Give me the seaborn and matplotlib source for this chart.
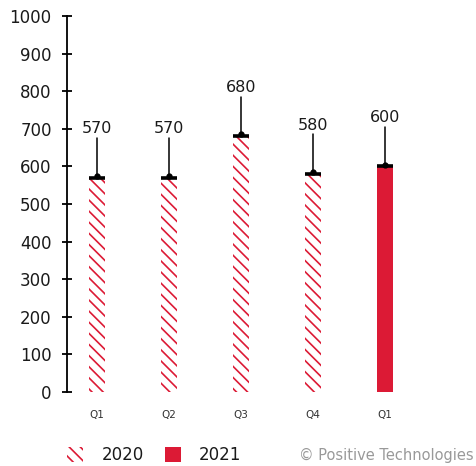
import matplotlib
matplotlib.use("Agg")
import matplotlib.pyplot as plt
import seaborn as sns
import pandas as pd
from matplotlib.patches import Rectangle

quarters = ["Q1", "Q2", "Q3", "Q4", "Q1"]
years = ["2020", "2020", "2020", "2020", "2021"]
values = [570, 570, 680, 580, 600]
yticks = [0, 100, 200, 300, 400, 500, 600, 700, 800, 900, 1000]

RED = "#DC1A35"
sns.set_style("white")
plt.rcParams['font.family'] = ['DejaVu Sans']
plt.rcParams['hatch.color'] = RED
plt.rcParams['hatch.linewidth'] = 1.2

df = pd.DataFrame({"pos": list(range(len(values))), "value": values, "year": years})

fig = plt.figure(figsize=(4.76, 4.66), dpi=100)
ax = fig.add_axes([67/476, 1-392/466, 1-67/476, 376/466])

sns.barplot(data=df, x="pos", y="value", hue="year", dodge=False, width=0.22,
            palette={"2020": "white", "2021": RED}, legend=False, ax=ax,
            linewidth=0, saturation=1)

HATCH = "\\\\\\"
for p, yr in zip(sorted(ax.patches, key=lambda r: r.get_x())[:len(values)], years):
    if yr == "2020":
        p.set_hatch(HATCH)
        p.set_edgecolor(RED)
        p.set_linewidth(0)
        p.set_facecolor("white")

for i, v in enumerate(values):
    ax.plot([i - 0.11, i + 0.11], [v, v], color="black", lw=2.6, solid_capstyle="butt", zorder=5)
    ax.plot([i, i], [v, v + 105], color="black", lw=1.1, zorder=5)
    ax.plot(i, v + 5, marker="o", ms=3.5, color="black", zorder=6)
    ax.text(i, v + 130, str(v), ha="center", va="center", fontsize=11.5, color="#1a1a1a")

ax.set_ylim(0, 1000)
ax.set_xlim(-0.417, 5.26)
ax.set_yticks(yticks)
ax.set_yticklabels([str(t) for t in yticks], fontsize=12, color="#1a1a1a")
ax.set_xticks(range(len(values)))
ax.set_xticklabels(quarters, fontsize=7.5, color="#333333")
ax.tick_params(axis="y", left=True, direction="inout", length=7, width=1.3, color="black", pad=7.5)
ax.tick_params(axis="x", bottom=False, length=0, pad=13)
ax.set_xlabel("")
ax.set_ylabel("")
for s in ["top", "right", "bottom"]:
    ax.spines[s].set_visible(False)
ax.spines["left"].set_linewidth(1.3)
ax.spines["left"].set_color("black")

# legend
H = 466
fig.add_artist(Rectangle((67/476, 1-462/H), 16/476, 15/H, transform=fig.transFigure,
                         facecolor="white", edgecolor=RED, hatch=HATCH, lw=0))
fig.text(102/476, 1-455/H, "2020", fontsize=12, va="center", ha="left", color="#1a1a1a")
fig.add_artist(Rectangle((165/476, 1-462/H), 16/476, 15/H, transform=fig.transFigure,
                         facecolor=RED, edgecolor="none", lw=0))
fig.text(199/476, 1-455/H, "2021", fontsize=12, va="center", ha="left", color="#1a1a1a")
fig.text(474/476, 1-455/H, "© Positive Technologies", fontsize=10.5, va="center", ha="right",
         color="#999999")

fig.savefig("out.png", dpi=100)
